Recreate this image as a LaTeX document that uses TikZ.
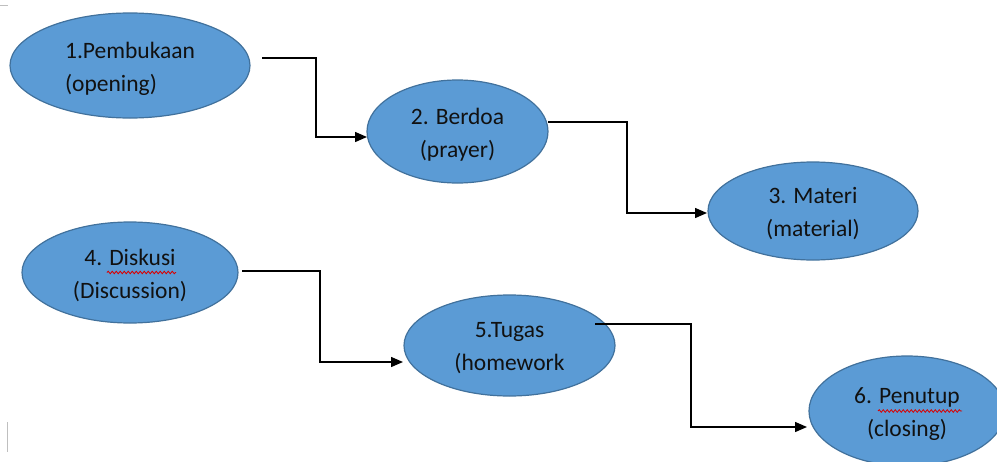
\documentclass[tikz,border=0pt]{standalone}
\usepackage{fontspec}
\setmainfont{Carlito}
\usetikzlibrary{shapes.geometric,arrows.meta,decorations.pathmorphing,calc}
\definecolor{ofill}{HTML}{5B9BD5}
\definecolor{oline}{HTML}{41719C}
\definecolor{otext}{HTML}{111111}
\tikzset{
  bubble/.style={ellipse, draw=oline, line width=1.2pt, fill=ofill, inner sep=0pt},
  btext/.style={text=otext, font=\fontsize{23.5}{33}\selectfont, align=center, inner sep=0pt},
  conn/.style={draw=black, line width=1.4pt, -{Triangle[length=12pt,width=10pt]}},
  spell/.style={draw=red!85!black, line width=0.8pt, decorate,
    decoration={snake, amplitude=1.3pt, segment length=4pt}},
  straymark/.style={draw=black!25, line width=1pt}
}
\begin{document}
\begin{tikzpicture}[x=1pt,y=-1pt]
\useasboundingbox (0,0) rectangle (997,461);
\clip (0,0) rectangle (997,461);
% ellipses
\node[bubble, minimum width=240pt, minimum height=105pt] (e1) at (130,65.5) {};
\node[bubble, minimum width=181pt, minimum height=103pt] (e2) at (457.5,131.5) {};
\node[bubble, minimum width=210pt, minimum height=98pt] (e3) at (813,211) {};
\node[bubble, minimum width=216pt, minimum height=101pt] (e4) at (130,272.5) {};
\node[bubble, minimum width=211pt, minimum height=101pt] (e5) at (509.5,345.5) {};
\node[bubble, minimum width=196pt, minimum height=110pt] (e6) at (907,411) {};
% texts
\node[btext, align=left] (t1x) at ($(e1)+(0,3)$) {1.Pembukaan\\(opening)};
\node[btext] (t2x) at ($(e2)+(0,3)$) {2. Berdoa\\(prayer)};
\node[btext] (t3x) at ($(e3)+(0,3)$) {3. Materi\\(material)};
\node[btext] (t4x) at ($(e4)+(0,3)$) {4. Diskusi\\(Discussion)};
\node[btext] (t5x) at ($(e5)+(0,3)$) {5.Tugas\\(homework};
\node[btext] (t6x) at ($(e6)+(0,3)$) {6. Penutup\\(closing)};
% spelling underlines
\coordinate (u4a) at ($(e4)+(-23,0)$);
\coordinate (u4b) at ($(e4)+(46,0)$);
\draw[spell] (u4a) -- (u4b);
\coordinate (u6a) at ($(e6)+(-29,0)$);
\coordinate (u6b) at ($(e6)+(55,0)$);
\draw[spell] (u6a) -- (u6b);
% connectors
\coordinate (s1) at (262,58);  \coordinate (k1) at (316,100); \coordinate (t1) at (367,137);
\coordinate (s2) at (548,122); \coordinate (k2) at (627,160); \coordinate (t2) at (707,213);
\coordinate (s3) at (242,271); \coordinate (k3) at (320,310); \coordinate (t3) at (403,362);
\coordinate (s4) at (595,324); \coordinate (k4) at (691,380); \coordinate (t4) at (807,427);
\draw[conn] (s1) -| (k1) |- (t1);
\draw[conn] (s2) -| (k2) |- (t2);
\draw[conn] (s3) -| (k3) |- (t3);
\draw[conn] (s4) -| (k4) |- (t4);
% stray marks
\coordinate (m1a) at (0,5); \coordinate (m1b) at (8,5);
\draw[straymark] (m1a) -- (m1b);
\coordinate (m2a) at (7,422); \coordinate (m2b) at (7,452);
\draw[straymark] (m2a) -- (m2b);
\end{tikzpicture}
\end{document}
